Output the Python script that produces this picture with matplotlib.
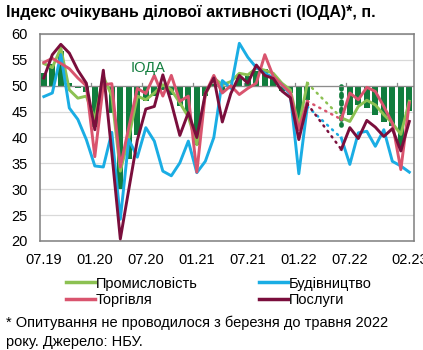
import numpy as np
import pandas as pd
import matplotlib
matplotlib.use("Agg")
import matplotlib.pyplot as plt
from matplotlib.lines import Line2D

plt.rcParams['font.family'] = ['Liberation Sans', 'DejaVu Sans']

nan = np.nan

# Monthly categories, 07.2019 - 02.2023
months = list(pd.date_range("2019-07-01", periods=44, freq="MS").strftime("%m.%y"))
tick_labels = ["07.19", "01.20", "07.20", "01.21", "07.21", "01.22", "07.22", "02.23"]

# Composite index (bars)
ioda = [52.5, 54.2, 56.8, 50.5, 49.5, 48.8, 42.0, 49.5, 44.8, 30.0,
        35.8, 40.5, 47.0, 48.0, 49.2, 48.3, 46.0, 44.7, 38.5, 48.0,
        50.3, 48.8, 49.5, 51.5, 51.8, 52.8, 53.2, 52.1, 48.9, 48.6,
        42.0, 47.3, nan, nan, nan, 42.5, 44.3, 46.2, 45.7, 44.3,
        43.0, 42.2, 38.2, 45.2]

promyslovist = [54.3, 53.5, 57.3, 49.2, 47.6, 48.0, 43.5, 51.8, 48.0, 33.5,
                40.0, 48.0, 47.3, 48.6, 50.2, 49.2, 46.7, 44.0, 38.6, 48.3,
                51.5, 50.2, 50.8, 52.4, 52.1, 53.4, 53.0, 52.4, 50.5, 49.2,
                42.2, 50.5, nan, nan, nan, 43.8, 43.1, 46.0, 47.2, 46.3,
                44.4, 42.8, 40.6, 47.0]

budivnytstvo = [47.9, 48.6, 56.0, 45.7, 43.5, 39.6, 34.5, 34.3, 41.0, 24.2,
                39.6, 36.2, 41.9, 39.3, 33.5, 32.6, 35.1, 39.3, 33.2, 35.4,
                40.0, 51.0, 49.5, 58.2, 55.5, 53.5, 52.4, 51.6, 50.2, 48.3,
                33.0, 46.0, nan, nan, nan, 39.9, 34.8, 40.9, 41.2, 38.3,
                41.5, 35.4, 34.5, 33.3]

torhivlia = [54.5, 55.3, 54.3, 53.3, 51.5, 50.0, 36.3, 50.2, 50.4, 34.3,
             42.0, 49.5, 48.5, 52.0, 48.0, 52.0, 47.0, 48.0, 33.3, 48.5,
             52.0, 48.6, 50.0, 48.3, 49.5, 50.5, 56.0, 51.8, 50.2, 48.6,
             41.5, 47.0, nan, nan, nan, 43.5, 48.6, 47.3, 49.7, 48.9,
             46.0, 42.8, 33.8, 46.7]

posluhy = [51.5, 56.0, 58.0, 56.3, 53.0, 50.5, 41.5, 53.0, 37.0, 20.4,
           30.0, 39.5, 45.5, 46.0, 52.1, 46.7, 40.4, 44.8, 40.0, 48.5,
           51.5, 43.0, 48.5, 52.0, 50.5, 54.0, 52.0, 51.4, 49.0, 47.7,
           39.6, 46.5, nan, nan, nan, 37.7, 41.9, 39.8, 43.3, 42.0,
           40.2, 41.7, 37.4, 43.1]

series = [
    ("Промисловість", promyslovist, "#8CC152"),
    ("Будівництво", budivnytstvo, "#1AADE4"),
    ("Торгівля", torhivlia, "#D9546E"),
    ("Послуги", posluhy, "#7A0E3C"),
]
bar_color = "#117D3D"
base = 50

W, H = 423, 350
fig = plt.figure(figsize=(W / 100, H / 100), dpi=100)
ax = fig.add_axes([40 / W, (H - 241) / H, 374 / W, 207 / H])

x = np.arange(len(months))
vals = np.array(ioda, dtype=float)

# the first month after the pause in the survey is shown as a dotted column
gap_end = next(i for i in range(1, len(vals)) if np.isnan(vals[i - 1]) and not np.isnan(vals[i]))
gap_start = next(i for i in range(len(vals)) if np.isnan(vals[i])) - 1

solid = [i for i in x if not np.isnan(vals[i]) and i != gap_end]
ax.bar(x[solid], vals[solid] - base, bottom=base, width=0.7, color=bar_color, zorder=2)
ax.plot([gap_end, gap_end], [base, vals[gap_end]], color=bar_color, lw=3.4,
        linestyle=(0, (0.6, 1.0)), dash_capstyle="round", zorder=2)

for name, vals_s, col in series:
    v = np.array(vals_s, dtype=float)
    ax.plot(x, v, color=col, lw=2.1, solid_joinstyle="round", zorder=3)
    ax.plot([gap_start, gap_end], [v[gap_start], v[gap_end]], color=col, lw=1.8,
            linestyle=(0, (0.5, 2.2)), dash_capstyle="round", zorder=3)

# axis at 50 with interval marks between categories
ax.axhline(base, color="#8C8C8C", lw=0.9, zorder=2.5)
for b in np.arange(5.5, len(months), 6):
    ax.plot([b, b], [base, base + 0.6], color="#8C8C8C", lw=0.9, zorder=2.5)

ax.text(10.2, 53.5, "ІОДА", color=bar_color, fontsize=10.5, ha="left", va="center")

ax.set_ylim(20, 60)
ax.set_xlim(-0.45, len(months) - 0.45)
ax.set_yticks(np.arange(20, 61, 5))
ax.yaxis.grid(True, color="#D9D9D9", lw=0.9)
ax.set_axisbelow(True)
ax.set_xticks([months.index(t) for t in tick_labels])
ax.set_xticklabels(tick_labels)
ax.tick_params(axis="both", length=0, labelsize=10.5, colors="#000000")
ax.tick_params(axis="x", pad=9)
ax.tick_params(axis="y", pad=9)
for s in ax.spines.values():
    s.set_color("#7F7F7F")
    s.set_linewidth(1.1)

fig.text(6 / W, 1 - 13 / H, "Індекс очікувань ділової активності (ІОДА)*, п.",
         fontsize=11.5, fontweight="bold", ha="left", va="center")

# legend filled row by row: (Промисловість, Будівництво) / (Торгівля, Послуги)
order = [0, 2, 1, 3]
handles = [Line2D([0], [0], color=series[k][2], lw=2.5) for k in order]
labels = [series[k][0] for k in order]
fig.legend(handles, labels, ncol=2, loc="center", bbox_to_anchor=(219 / W, 1 - 292 / H),
           frameon=False, fontsize=10.5, handlelength=1.95, handletextpad=0.1,
           columnspacing=4.2, labelspacing=0.2)

fig.text(6 / W, 1 - 323 / H, "* Опитування не проводилося з березня до травня 2022",
         fontsize=10.5, ha="left", va="center")
fig.text(6 / W, 1 - 342 / H, "року. Джерело: НБУ.", fontsize=10.5, ha="left", va="center")

fig.savefig("out.png", dpi=100)
